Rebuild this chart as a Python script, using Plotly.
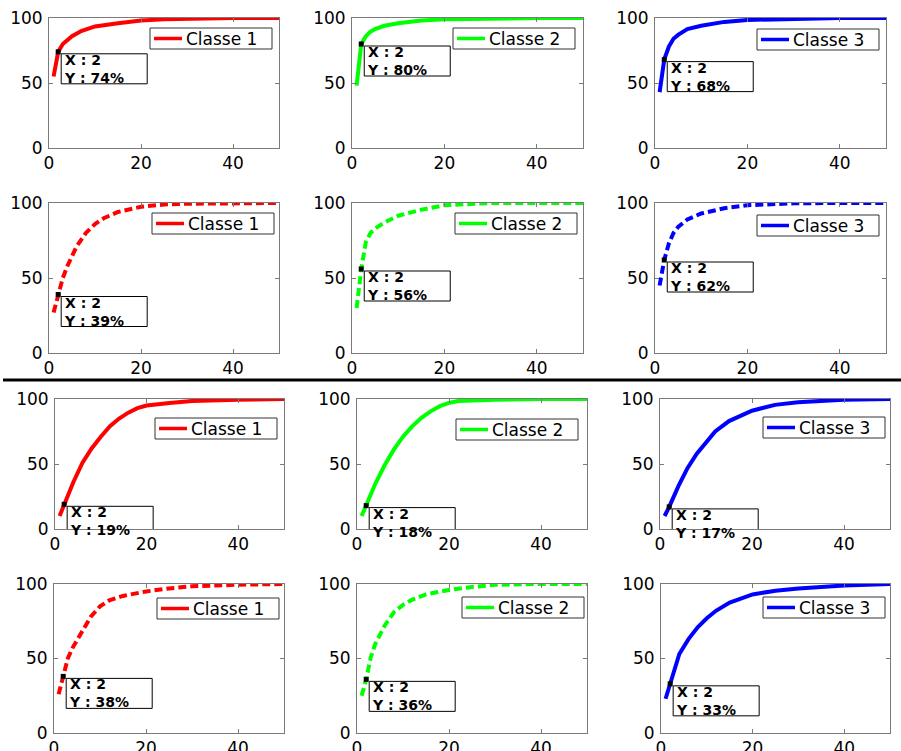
import plotly.graph_objects as go

# ---------------- data ----------------
classes = ["Classe 1", "Classe 2", "Classe 3"]
colors = ["#ff0000", "#00ff00", "#0000ff"]
tick_x = [0, 20, 40]
tick_y = [0, 50, 100]
tip_x = 2

# row 1 (solid)
r1c1_x = [1, 2, 3, 5, 7, 10, 15, 20, 25, 30, 40, 50]
r1c1_y = [55, 74, 80, 86, 90, 93.5, 96, 98, 99, 99.5, 100, 100]
r1c2_x = [1, 2, 3, 4, 5, 7, 10, 15, 20, 30, 40, 50]
r1c2_y = [48, 80, 86, 89.5, 91.5, 94, 96, 98, 99, 99.8, 100, 100]
r1c3_x = [1, 2, 3, 4, 5, 7, 10, 15, 20, 30, 40, 50]
r1c3_y = [43, 68, 78, 84, 87, 91.5, 94, 97, 98.5, 99.5, 100, 100]
# row 2 (dashed)
r2c1_x = [1, 2, 3, 4, 5, 6, 8, 10, 12, 15, 20, 25, 30, 40, 50]
r2c1_y = [27, 39, 50, 58, 65, 71, 80, 86, 90, 94, 97.5, 99, 99.5, 100, 100]
r2c2_x = [1, 2, 3, 4, 5, 7, 10, 15, 20, 25, 30, 40, 50]
r2c2_y = [30, 56, 74, 80, 83, 87, 91.5, 95.5, 98.5, 99.5, 100, 100, 100]
r2c3_x = [1, 2, 3, 4, 5, 7, 10, 15, 20, 30, 40, 50]
r2c3_y = [45, 62, 73, 80, 84, 89, 93, 96.5, 98.5, 99.8, 100, 100]
# row 3 (solid)
r3c1_x = [1, 2, 4, 6, 8, 10, 12, 14, 16, 18, 20, 25, 30, 40, 50]
r3c1_y = [10, 19, 36, 51, 62, 71, 79, 85, 89.5, 93, 95, 97, 98.5, 99.5, 100]
r3c2_x = [1, 2, 4, 6, 8, 10, 12, 14, 16, 18, 20, 22, 25, 30, 40, 50]
r3c2_y = [10, 18, 35, 49, 61, 71, 79, 85.5, 90.5, 94.5, 97, 98.5, 99, 99.5, 100, 100]
r3c3_x = [1, 2, 4, 6, 8, 10, 12, 15, 20, 25, 30, 40, 50]
r3c3_y = [10, 17, 33, 47, 58, 67, 75, 83, 91, 95.5, 97.5, 99.5, 100]
# row 4 (dashed, dashed, solid)
r4c1_x = [1, 2, 3, 4, 6, 8, 10, 12, 15, 20, 25, 30, 40, 50]
r4c1_y = [26, 38, 50, 57, 68, 78, 85, 89, 92, 95, 97, 98.5, 99.5, 100]
r4c2_x = [1, 2, 3, 4, 6, 8, 10, 12, 15, 20, 25, 30, 40, 50]
r4c2_y = [25, 36, 51, 60, 72, 81, 86, 89.5, 93, 96, 98, 99.5, 100, 100]
r4c3_x = [1, 2, 3, 4, 6, 8, 10, 12, 15, 20, 25, 30, 40, 50]
r4c3_y = [23, 33, 44, 53, 63, 71, 77, 82, 87.5, 93, 95.5, 97, 99, 100]

panels_x = [[r1c1_x, r1c2_x, r1c3_x], [r2c1_x, r2c2_x, r2c3_x],
            [r3c1_x, r3c2_x, r3c3_x], [r4c1_x, r4c2_x, r4c3_x]]
panels_y = [[r1c1_y, r1c2_y, r1c3_y], [r2c1_y, r2c2_y, r2c3_y],
            [r3c1_y, r3c2_y, r3c3_y], [r4c1_y, r4c2_y, r4c3_y]]
dashed = [[False, False, False], [True, True, True],
          [False, False, False], [True, True, False]]

# ---------------- layout (pixels) ----------------
W, H = 901, 751
row_tb = [(18, 148), (203, 353), (399, 529), (584, 733)]
col_lr = [[(49, 279), (352, 583), (655, 886)],
          [(49, 279), (352, 583), (655, 886)],
          [(55, 284), (357, 587), (660, 890)],
          [(54, 284), (357, 587), (661, 890)]]
legend_tr = [[(272, 28), (575, 28), (879, 29)],
             [(274, 213), (577, 213), (879, 215)],
             [(277, 418), (578, 419), (885, 417)],
             [(279, 598), (584, 597), (885, 597)]]
LEG_W, LEG_H = 122, 21
TIP_W, TIP_H = 86, 30

FONT = "DejaVu Sans"
fig = go.Figure()
layout = dict(width=W, height=H,
              margin=dict(l=0, r=0, t=0, b=0, pad=0, autoexpand=False),
              paper_bgcolor="white", plot_bgcolor="white", showlegend=False)
annotations = []
shapes = []


def px(xp):
    return xp / W


def py(yp):
    return 1 - yp / H


k = 0
for r in range(4):
    for c in range(3):
        k += 1
        sfx = "" if k == 1 else str(k)
        xa, ya = "x" + sfx, "y" + sfx
        L, R = col_lr[r][c]
        T, B = row_tb[r]
        axis_common = dict(showline=True, linecolor="#7a7a7a", linewidth=1,
                           mirror="ticks", ticks="inside", ticklen=4,
                           tickcolor="#7a7a7a", showgrid=False, zeroline=False,
                           automargin=False,
                           tickfont=dict(family=FONT, size=17, color="black"),
                           fixedrange=True)
        layout["xaxis" + sfx] = dict(domain=[px(L), px(R)], range=[0, 50],
                                     tickvals=tick_x, anchor=ya, ticklabelstandoff=0,
                                     **axis_common)
        layout["yaxis" + sfx] = dict(domain=[py(B), py(T)], range=[0, 100],
                                     tickvals=tick_y, anchor=xa, ticklabelstandoff=2,
                                     **axis_common)
        xs, ys = panels_x[r][c], panels_y[r][c]
        dash = "8px,4px" if dashed[r][c] else "solid"
        fig.add_trace(go.Scatter(x=xs, y=ys, mode="lines", xaxis=xa, yaxis=ya,
                                 name=classes[c],
                                 line=dict(color=colors[c], width=4, dash=dash),
                                 hoverinfo="skip"))

        # legend box (MATLAB style: solid sample line)
        lx, ly = legend_tr[r][c]
        bl = lx - LEG_W
        shapes.append(dict(type="rect", xref="paper", yref="paper",
                           x0=px(bl), x1=px(lx), y0=py(ly + LEG_H), y1=py(ly),
                           fillcolor="white", line=dict(color="#333333", width=1),
                           layer="above"))
        shapes.append(dict(type="line", xref="paper", yref="paper",
                           x0=px(bl + 4), x1=px(bl + 32),
                           y0=py(ly + LEG_H / 2), y1=py(ly + LEG_H / 2),
                           line=dict(color=colors[c], width=3.5), layer="above"))
        annotations.append(dict(x=px(bl + 34), y=py(ly + LEG_H / 2 + 0.5),
                                xref="paper", yref="paper", text=classes[c],
                                showarrow=False, xanchor="left", yanchor="middle",
                                font=dict(family=FONT, size=17, color="black")))

        # data tip: black marker + boxed label
        tv = ys[xs.index(tip_x)]
        fig.add_trace(go.Scatter(x=[tip_x], y=[tv], mode="markers", xaxis=xa, yaxis=ya,
                                 marker=dict(symbol="square", size=5, color="black"),
                                 showlegend=False, hoverinfo="skip"))
        shapes.append(dict(type="rect", xref=xa, yref=ya,
                           xsizemode="pixel", ysizemode="pixel",
                           xanchor=tip_x, yanchor=tv,
                           x0=3, x1=3 + TIP_W, y0=-2, y1=-2 - TIP_H,
                           fillcolor="white", line=dict(color="black", width=1),
                           layer="above"))
        annotations.append(dict(x=tip_x, y=tv, xref=xa, yref=ya,
                                text=f"X : {tip_x}<br>Y : {round(tv)}%",
                                showarrow=False, xanchor="left", yanchor="middle",
                                align="left", xshift=5, yshift=-2 - TIP_H / 2,
                                borderpad=0,
                                font=dict(family=FONT, size=14, color="black",
                                          weight="bold")))

layout["annotations"] = annotations
shapes.append(dict(type="line", xref="paper", yref="paper",
                   x0=px(3), x1=1, y0=py(380), y1=py(380),
                   line=dict(color="black", width=3)))
layout["shapes"] = shapes
fig.update_layout(**layout)
fig.write_html("out.html")
